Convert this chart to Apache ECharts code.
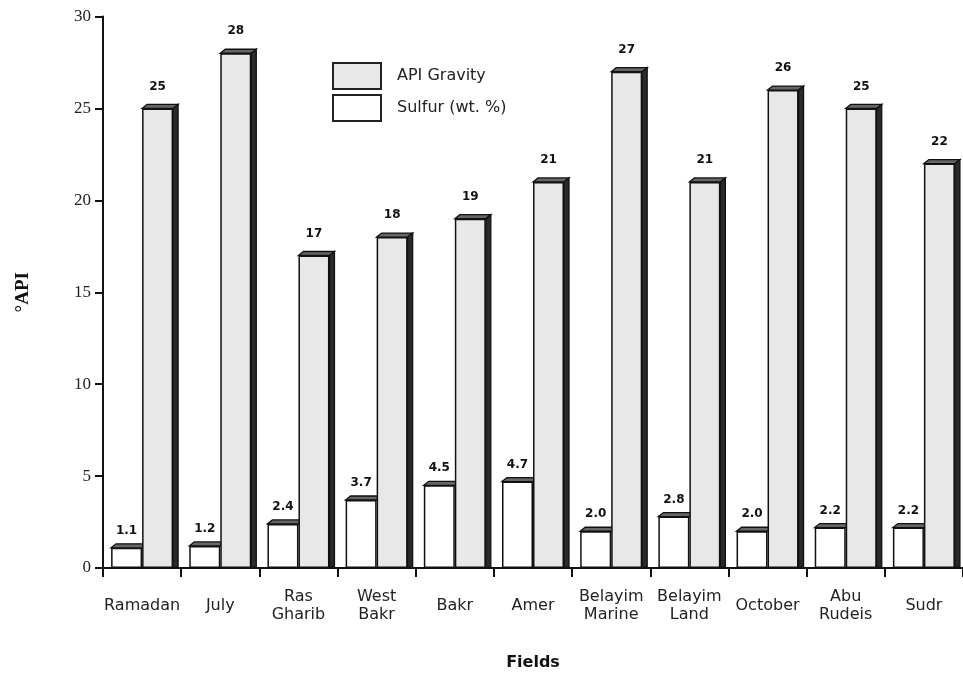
<!DOCTYPE html>
<html><head><meta charset="utf-8">
<script src="https://cdn.jsdelivr.net/npm/echarts@6/dist/echarts.min.js"></script>
<style>html,body{margin:0;padding:0;background:#fff}#c{width:963px;height:679px}</style>
</head><body><div id="c"></div>
<script>
var categories = ['Ramadan','July','Ras\nGharib','West\nBakr','Bakr','Amer','Belayim\nMarine','Belayim\nLand','October','Abu\nRudeis','Sudr'];
var apiGravity = [25,28,17,18,19,21,27,21,26,25,22];
var sulfur = [1.1,1.2,2.4,3.7,4.5,4.7,2.0,2.8,2.0,2.2,2.2];
var yTicks = [0,5,10,15,20,25,30];

var BW = 31, DX = 5, DY = 4;
function makeFaces(offsetSign, withSide) {
  return function (params, api) {
    var i = api.value(0), v = api.value(1);
    var top = api.coord([i, v]);
    var base = api.coord([i, 0]);
    var cx = top[0];
    var x0 = offsetSign < 0 ? cx - BW : cx;
    var x1 = x0 + BW;
    var y = top[1], y0 = base[1];
    var children = [{
      type: 'polygon',
      shape: {points: [[x0, y], [x0 + DX, y - DY], [x1 + DX, y - DY], [x1, y]]},
      style: {fill: '#666', stroke: '#111', lineWidth: 1.3}
    }];
    if (withSide) {
      children.push({
        type: 'polygon',
        shape: {points: [[x1, y], [x1 + DX, y - DY], [x1 + DX, y0 - 1], [x1, y0]]},
        style: {fill: '#2a2a2a', stroke: '#111', lineWidth: 1.3}
      });
    }
    return {type: 'group', children: children};
  };
}

var chart = echarts.init(document.getElementById('c'));
chart.setOption({
  animation: false,
  grid: {left: 103, right: 0, top: 16.5, bottom: 111, containLabel: false, outerBoundsMode: 'none'},
  legend: {
    data: ['API Gravity', 'Sulfur (wt. %)'],
    orient: 'vertical', left: 327, top: 57,
    itemWidth: 48, itemHeight: 26, itemGap: 4,
    icon: 'rect',
    itemStyle: {borderColor: '#222', borderWidth: 2},
    textStyle: {fontFamily: 'DejaVu Sans', fontSize: 16, color: '#222', padding: [0, 0, 0, 11]}
  },
  xAxis: {
    type: 'category', data: categories,
    axisLine: {lineStyle: {color: '#111', width: 2}},
    axisTick: {show: true, alignWithLabel: false, length: 9, lineStyle: {color: '#111', width: 2}},
    axisLabel: {fontFamily: 'DejaVu Sans', fontSize: 16, color: '#222', margin: 38, verticalAlign: 'middle', lineHeight: 18, interval: 0},
    name: 'Fields', nameLocation: 'middle', nameGap: 87,
    nameTextStyle: {fontFamily: 'DejaVu Sans', fontWeight: 'bold', fontSize: 16, color: '#111'}
  },
  yAxis: {
    type: 'value', min: yTicks[0], max: yTicks[yTicks.length - 1], interval: 5,
    axisLine: {show: true, lineStyle: {color: '#111', width: 2}},
    axisTick: {show: true, length: 8, lineStyle: {color: '#111', width: 2}},
    splitLine: {show: false},
    axisLabel: {fontFamily: 'Liberation Serif', fontSize: 17, color: '#222', margin: 12},
    name: '°API', nameLocation: 'middle', nameGap: 70, nameRotate: 90,
    nameTextStyle: {fontFamily: 'Liberation Serif', fontWeight: 'bold', fontSize: 19, color: '#111'}
  },
  series: [
    {
      name: 'Sulfur (wt. %)', type: 'bar', data: sulfur, barWidth: BW, barGap: '0%', z: 3,
      itemStyle: {color: '#ffffff', borderColor: '#111', borderWidth: 1.5},
      label: {show: true, position: 'top', distance: 11, fontFamily: 'DejaVu Sans', fontWeight: 'bold', fontSize: 12, color: '#111',
        formatter: function (p) { return p.value.toFixed(1); }}
    },
    {
      name: 'API Gravity', type: 'bar', data: apiGravity, barWidth: BW, barGap: '0%', z: 3,
      itemStyle: {color: '#e8e8e8', borderColor: '#111', borderWidth: 1.5},
      label: {show: true, position: 'top', distance: 16, fontFamily: 'DejaVu Sans', fontWeight: 'bold', fontSize: 12, color: '#111'}
    },
    {
      name: 'sulfur3d', type: 'custom', z: 2, silent: true,
      renderItem: makeFaces(-1, false),
      data: sulfur.map(function (v, i) { return [i, v]; })
    },
    {
      name: 'api3d', type: 'custom', z: 2, silent: true,
      renderItem: makeFaces(1, true),
      data: apiGravity.map(function (v, i) { return [i, v]; })
    }
  ]
});
</script></body></html>
